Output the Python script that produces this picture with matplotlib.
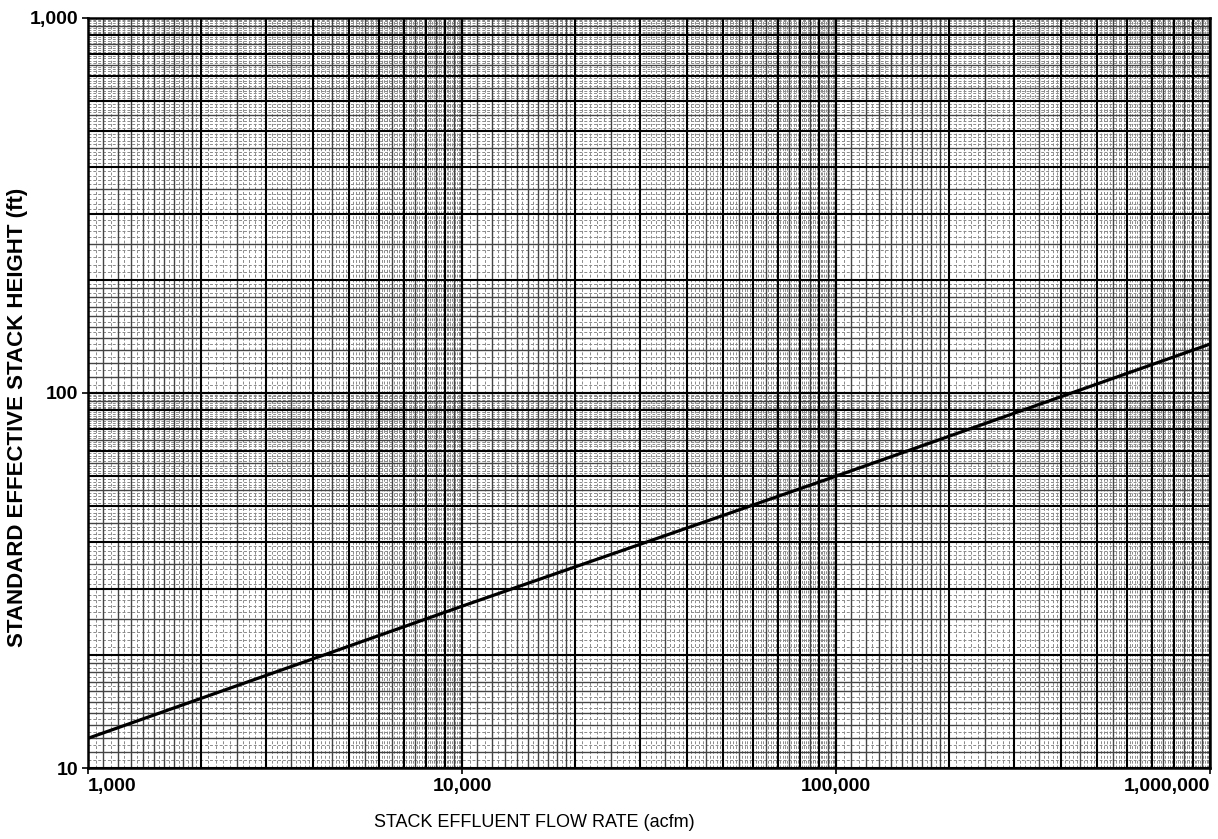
"""
Standard effective stack height vs. stack effluent flow rate (log-log chart paper).
"""

import matplotlib.pyplot as plt
import numpy as np
from matplotlib.ticker import FixedLocator, FuncFormatter, NullFormatter

# values
flow_acfm = [1_000, 10_000, 100_000, 1_000_000]
stack_height_ft = [12.0, 27.0, 60.0, 135.0]

x_ticks = [1_000, 10_000, 100_000, 1_000_000]
y_ticks = [10, 100, 1_000]

x_label = "STACK EFFLUENT FLOW RATE (acfm)"
y_label = "STANDARD EFFECTIVE STACK HEIGHT (ft)"


def paper_lines(lo, hi):
    """Rulings of log chart paper: heavy, medium and fine (dashed) lines."""
    heavy, medium, fine = [], [], []
    dec = lo
    while dec < hi:
        heavy += [dec * k for k in range(1, 11)]
        medium += [dec * s for s in np.arange(1.1, 2.0, 0.1)]
        medium += [dec * s for s in np.arange(2.5, 10.0, 1.0)]
        fine += [dec * s for s in np.arange(1.05, 2.0, 0.1)]
        fine += [dec * s for s in np.arange(2.1, 10.0, 0.1)
                 if min(abs(s - round(s)), abs(s - round(s * 2) / 2)) > 1e-6]
        dec *= 10
    return heavy, medium, fine


def main() -> None:
    plt.rcParams["font.family"] = ["Liberation Sans", "DejaVu Sans"]

    fig = plt.figure(figsize=(12.18, 8.39), dpi=100)
    ax = fig.add_axes([0.0722, 0.0846, 0.9212, 0.894])

    ax.set_xscale("log")
    ax.set_yscale("log")
    ax.set_xlim(x_ticks[0], x_ticks[-1])
    ax.set_ylim(y_ticks[0], y_ticks[-1])

    hx, mx, fx = paper_lines(x_ticks[0], x_ticks[-1])
    hy, my, fy = paper_lines(y_ticks[0], y_ticks[-1])

    for v in fx:
        ax.axvline(v, color="#8a8a8a", lw=0.7, ls=(0, (3, 2)), zorder=1)
    for v in fy:
        ax.axhline(v, color="#8a8a8a", lw=0.7, ls=(0, (3, 2)), zorder=1)
    for v in mx:
        ax.axvline(v, color="#444444", lw=1.0, zorder=2)
    for v in my:
        ax.axhline(v, color="#444444", lw=1.0, zorder=2)
    for v in hx:
        ax.axvline(v, color="black", lw=1.5, zorder=3)
    for v in hy:
        ax.axhline(v, color="black", lw=1.5, zorder=3)

    ax.plot(flow_acfm, stack_height_ft, color="black", lw=2.3, zorder=5)

    ax.xaxis.set_major_locator(FixedLocator(x_ticks))
    ax.yaxis.set_major_locator(FixedLocator(y_ticks))
    ax.xaxis.set_minor_formatter(NullFormatter())
    ax.yaxis.set_minor_formatter(NullFormatter())
    ax.tick_params(which="minor", length=0)
    ax.tick_params(which="major", length=4, width=1.2, labelsize=14, pad=3)
    fmt = FuncFormatter(lambda v, _: f"{int(round(v)):,}")
    ax.xaxis.set_major_formatter(fmt)
    ax.yaxis.set_major_formatter(fmt)
    xlabs = ax.get_xticklabels()
    for lab in xlabs + ax.get_yticklabels():
        lab.set_fontweight("bold")
    xlabs[0].set_ha("left")
    xlabs[-1].set_ha("right")

    for sp in ax.spines.values():
        sp.set_linewidth(1.8)

    ax.set_xlabel(x_label, fontsize=13)
    ax.xaxis.set_label_coords(0.398, -0.072)
    ax.xaxis.label.set_va("center")
    ax.set_ylabel(y_label, fontsize=16, fontweight="bold")
    ax.yaxis.set_label_coords(-0.0624, 0.468)
    ax.yaxis.label.set_va("center")

    fig.savefig("out.png", dpi=100)


if __name__ == "__main__":
    main()
